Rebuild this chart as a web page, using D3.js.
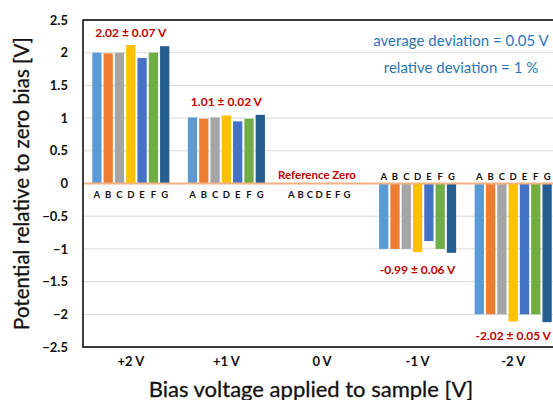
<!DOCTYPE html>
<html>
<head>
<meta charset="utf-8">
<script src="https://cdn.jsdelivr.net/npm/d3@7"></script>
<style>
  body { margin: 0; background: #fff; }
  text { font-family: Lato, "Open Sans", sans-serif; }
</style>
</head>
<body>
<svg id="chart"></svg>
<script>
const biasLabels = ['+2 V', '+1 V', '0 V', '-1 V', '-2 V'];
const samples = ['A', 'B', 'C', 'D', 'E', 'F', 'G'];
const sampleColors = ['#5B9BD5', '#ED7D31', '#A5A5A5', '#FFC000', '#4472C4', '#70AD47', '#255E91'];

// potential per sample, one row per bias group
const values = [
    [2.00, 1.99, 2.00, 2.12, 1.92, 2.00, 2.10],
    [1.01, 0.99, 1.01, 1.04, 0.95, 0.99, 1.05],
    [0, 0, 0, 0, 0, 0, 0],
    [-1.00, -1.00, -1.00, -1.05, -0.88, -1.00, -1.06],
    [-2.00, -2.00, -2.00, -2.11, -2.00, -2.00, -2.12]
];

const groupNotes = ['2.02 \u00b1 0.07 V', '1.01 \u00b1 0.02 V', null, '-0.99 \u00b1 0.06 V', '-2.02 \u00b1 0.05 V'];
const noteY = [2.24, 1.19, null, -1.39, -2.40];
const yTicks = [2.5, 2, 1.5, 1, 0.5, 0, -0.5, -1, -1.5, -2, -2.5];

const W = 553, H = 400;
const margin = { top: 20, left: 83, bottom: 53 };
const plotRight = 561;

const svg = d3.select("#chart").attr("width", W).attr("height", H);

const x = d3.scaleBand().domain(biasLabels).range([margin.left, plotRight]);
const xs = d3.scaleBand().domain(samples).range([0, x.bandwidth()])
    .paddingInner(0.18).paddingOuter(0.82);
const y = d3.scaleLinear().domain([-2.5, 2.5]).range([H - margin.bottom, margin.top]);

// gridlines
svg.append("g")
    .selectAll("line")
    .data(yTicks)
    .join("line")
    .attr("x1", margin.left).attr("x2", plotRight)
    .attr("y1", d => y(d)).attr("y2", d => y(d))
    .attr("stroke", "#D9D9D9")
    .attr("stroke-width", 1);

// bars
const groups = svg.append("g")
    .selectAll("g")
    .data(values)
    .join("g")
    .attr("transform", (d, i) => `translate(${x(biasLabels[i])},0)`);

groups.selectAll("rect")
    .data(d => d.map((v, j) => ({ v, s: samples[j], c: sampleColors[j] })))
    .join("rect")
    .attr("x", d => xs(d.s))
    .attr("width", xs.bandwidth())
    .attr("y", d => y(Math.max(0, d.v)))
    .attr("height", d => Math.abs(y(d.v) - y(0)))
    .attr("fill", d => d.c);

// sample letters
groups.each(function (d, i) {
    const neg = d3.mean(d) < 0;
    d3.select(this).selectAll("text.letter")
        .data(samples)
        .join("text")
        .attr("class", "letter")
        .attr("x", s => i === 2 ? xs(s) * 0.82 + xs.bandwidth() / 2 + 5 : xs(s) + xs.bandwidth() / 2)
        .attr("y", neg ? y(0) - 4 : y(0) + 14)
        .attr("text-anchor", "middle")
        .attr("font-size", 9.5)
        .attr("font-weight", "bold")
        .attr("fill", "#111")
        .text(s => s);
});

// zero line
svg.append("line")
    .attr("x1", margin.left).attr("x2", plotRight)
    .attr("y1", y(0)).attr("y2", y(0))
    .attr("stroke", "#F4B183")
    .attr("stroke-width", 2);

// frame (top, left, bottom)
svg.append("path")
    .attr("d", `M${plotRight},${y(2.5)}H${margin.left}V${y(-2.5)}H${plotRight}`)
    .attr("fill", "none")
    .attr("stroke", "#000")
    .attr("stroke-width", 1.5);

// y axis labels
const yAxis = svg.append("g")
    .attr("transform", `translate(${margin.left},0)`)
    .call(d3.axisLeft(y).tickValues(yTicks).tickSize(0).tickPadding(15).tickFormat(d3.format("")));
yAxis.select(".domain").remove();
yAxis.selectAll("text")
    .attr("font-size", 13)
    .attr("font-weight", "bold")
    .attr("fill", "#111")
    .style("font-family", "Lato, sans-serif");

// x axis labels
const xAxis = svg.append("g")
    .attr("transform", `translate(0,${y(-2.5)})`)
    .call(d3.axisBottom(x).tickSize(0).tickPadding(10));
xAxis.select(".domain").remove();
xAxis.selectAll("text")
    .attr("font-size", 13)
    .attr("font-weight", "bold")
    .attr("fill", "#111")
    .style("font-family", "Lato, sans-serif");

// group annotations
svg.append("g")
    .selectAll("text")
    .data(groupNotes.map((t, i) => ({ t, yv: noteY[i], cat: biasLabels[i] })).filter(d => d.t))
    .join("text")
    .attr("x", d => x(d.cat) + x.bandwidth() / 2)
    .attr("y", d => y(d.yv))
    .attr("text-anchor", "middle")
    .attr("font-size", 12)
    .attr("font-weight", "bold")
    .attr("fill", "#C00000")
    .text(d => d.t);

svg.append("text")
    .attr("x", x('0 V') + x.bandwidth() / 2 - 5)
    .attr("y", y(0) - 5)
    .attr("text-anchor", "middle")
    .attr("font-size", 11.5)
    .attr("font-weight", "bold")
    .attr("fill", "#C00000")
    .text("Reference Zero");

svg.append("text")
    .attr("x", 461).attr("y", y(2.1))
    .attr("text-anchor", "middle")
    .attr("font-size", 15)
    .attr("fill", "#2E75B6")
    .text("average deviation = 0.05 V");

svg.append("text")
    .attr("x", 461).attr("y", y(1.69))
    .attr("text-anchor", "middle")
    .attr("font-size", 15)
    .attr("fill", "#2E75B6")
    .text("relative deviation = 1 %");

// axis titles
svg.append("text")
    .attr("transform", `translate(29,${(y(2.5) + y(-2.5)) / 2}) rotate(-90)`)
    .attr("text-anchor", "middle")
    .attr("font-size", 20.5)
    .attr("fill", "#111")
    .style("stroke", "#111").style("stroke-width", 0.3)
    .text("Potential relative to zero bias  [V]");

svg.append("text")
    .attr("x", 311).attr("y", 397)
    .attr("text-anchor", "middle")
    .attr("font-size", 22)
    .attr("fill", "#111")
    .style("stroke", "#111").style("stroke-width", 0.3)
    .text("Bias voltage applied to sample [V]");
</script>
</body>
</html>
